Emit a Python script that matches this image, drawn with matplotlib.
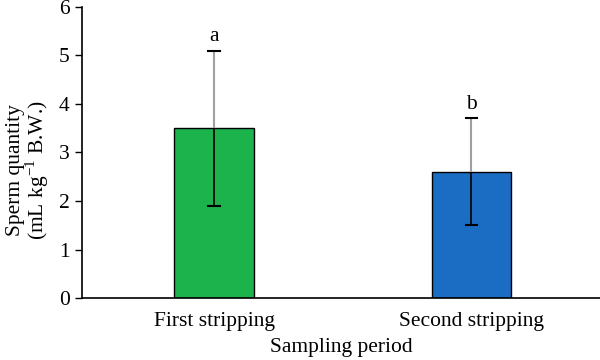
import matplotlib.pyplot as plt

plt.rcParams['font.family'] = ['Liberation Serif', 'DejaVu Serif']
plt.rcParams['mathtext.fontset'] = 'custom'
plt.rcParams['mathtext.rm'] = 'Liberation Serif'

periods = ['First stripping', 'Second stripping']
means = [3.5, 2.6]
errors = [1.6, 1.1]
letters = ['a', 'b']
colors = ['#1db34c', '#1a6dc2']

fig = plt.figure(figsize=(6, 3.6), dpi=100)
ax = fig.add_axes([0.137, 0.172, 0.863, 0.809])

x = list(range(len(periods)))
ax.bar(x, means, width=0.31, color=colors, edgecolor='black', linewidth=1, zorder=2)
# upper half of the error bar in grey, lower half in black
ax.errorbar(x, means, yerr=[[0, 0], errors], fmt='none', ecolor='#a0a0a0',
            elinewidth=1.5, capsize=0, zorder=3)
ax.errorbar(x, means, yerr=[errors, [0, 0]], fmt='none', ecolor='black',
            elinewidth=1.2, capsize=0, zorder=4)
cw = 0.023
for xi, m, e in zip(x, means, errors):
    for yc in (m + e, m - e):
        ax.plot([xi - cw, xi + cw], [yc, yc], color='black', lw=1.5, zorder=4)
    ax.text(xi, m + e + 0.1, letters[xi], ha='center', va='bottom', fontsize=15.5)

ax.set_xlim(-0.514, 1.50)
ax.set_ylim(0, 6)
ax.set_yticks(range(0, 7))
ax.set_xticks(x)
ax.set_xticklabels(periods, fontsize=15.5)
ax.tick_params(axis='x', length=0, pad=10)
ax.tick_params(axis='y', labelsize=15.5, length=5, width=1, direction='out', pad=4)
ax.spines['top'].set_visible(False)
ax.spines['right'].set_visible(False)
ax.spines['left'].set_linewidth(1.2)
ax.spines['bottom'].set_linewidth(1.2)
ax.set_xlabel('Sampling period', fontsize=15.5, labelpad=5)
ax.set_ylabel('Sperm quantity\n(mL kg$^{-1}$ B.W.)', fontsize=15.5, linespacing=0.95)
ax.yaxis.set_label_coords(-0.06, 0.44)

fig.savefig('out.png')
